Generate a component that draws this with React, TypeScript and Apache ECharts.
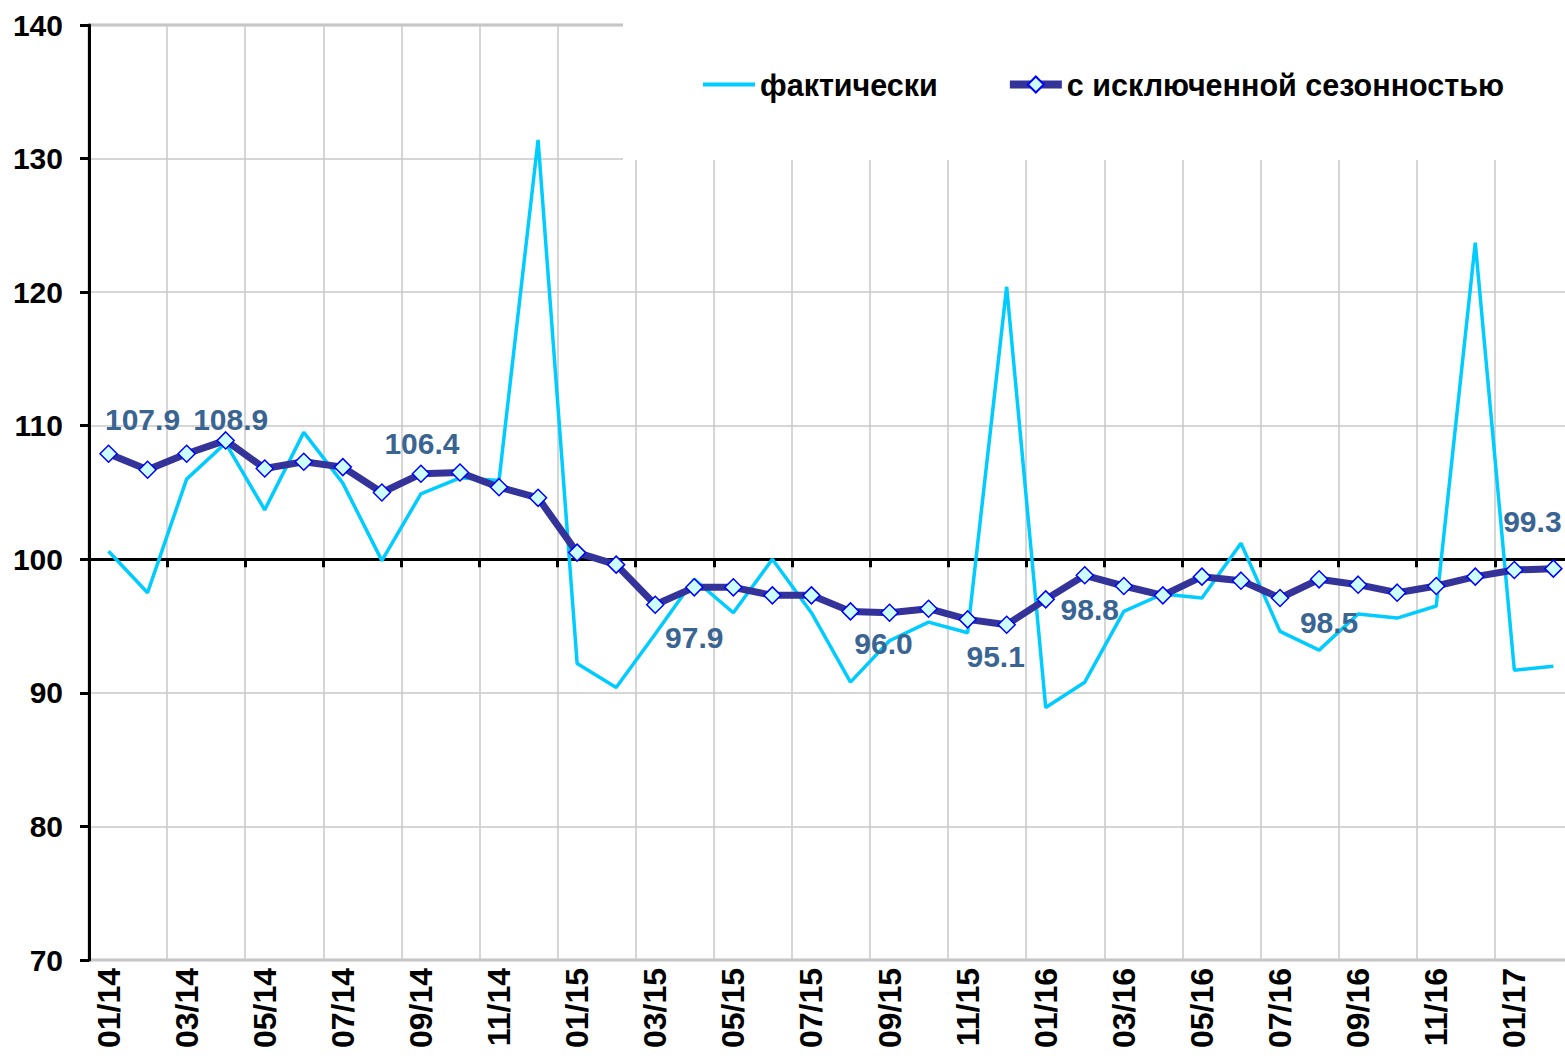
import React, { useEffect, useRef } from 'react';
import * as echarts from 'echarts';

const months = [
  '01/14', '02/14', '03/14', '04/14', '05/14', '06/14', '07/14', '08/14', '09/14', '10/14', '11/14', '12/14',
  '01/15', '02/15', '03/15', '04/15', '05/15', '06/15', '07/15', '08/15', '09/15', '10/15', '11/15', '12/15',
  '01/16', '02/16', '03/16', '04/16', '05/16', '06/16', '07/16', '08/16', '09/16', '10/16', '11/16', '12/16',
  '01/17', '02/17',
];

const actual = [
  100.6, 97.5, 106.0, 108.7, 103.7, 109.5, 105.7, 99.9, 104.9, 106.1, 105.9, 131.4,
  92.2, 90.4, 94.4, 98.5, 96.0, 100.0, 96.0, 90.8, 93.9, 95.3, 94.5, 120.4,
  88.9, 90.8, 96.1, 97.4, 97.1, 101.2, 94.6, 93.2, 95.9, 95.6, 96.5, 123.7,
  91.7, 92.0,
];

const seasonal = [
  107.9, 106.7, 107.9, 108.9, 106.8, 107.3, 106.9, 105.0, 106.4, 106.5, 105.4, 104.6,
  100.5, 99.6, 96.6, 97.9, 97.9, 97.3, 97.3, 96.1, 96.0, 96.3, 95.5, 95.1,
  97.0, 98.8, 98.0, 97.3, 98.7, 98.4, 97.1, 98.5, 98.1, 97.5, 98.0, 98.7,
  99.2, 99.3,
];

const seriesNames = ['фактически', 'с исключенной сезонностью'];
const labeledPoints = [0, 3, 8, 15, 20, 23, 25, 31, 37];
const yMin = 70;
const yMax = 140;
const yStep = 10;
const refLevel = 100;

// label placement (style only)
const labelOffsets: Record<number, [number, number]> = {
  0: [34, -34],
  3: [5, -21],
  8: [1, -30],
  15: [0, 50],
  20: [-6, 31],
  23: [-11, 32],
  25: [5, 34],
  31: [10, 43],
  37: [-21, -47],
};

export default function App() {
  const ref = useRef<HTMLDivElement>(null);

  useEffect(() => {
    if (!ref.current) return;
    const chart = echarts.init(ref.current, null, { renderer: 'svg' });
    const FONT = "'Liberation Sans', Arial, sans-serif";
    const gridLeft = 89;
    const gridTop = 25;
    const gridHeight = 935;
    const gridWidth = months.length * 39.05;
    const offsetRef = -gridHeight * (refLevel - yMin) / (yMax - yMin);

    const seasonalData = seasonal.map((v, i) => {
      if (!labeledPoints.includes(i)) return v;
      return {
        value: v,
        label: {
          show: true,
          position: 'inside',
          offset: labelOffsets[i],
          formatter: (p: any) => Number(p.value).toFixed(1),
          color: '#3A6592',
          fontSize: 30,
          fontWeight: 'bold',
          fontFamily: FONT,
        },
      };
    });

    chart.setOption({
      animation: false,
      backgroundColor: '#ffffff',
      grid: {
        left: gridLeft,
        top: gridTop,
        width: gridWidth,
        height: gridHeight,
        outerBoundsMode: 'none',
        containLabel: false,
        show: true,
        borderColor: '#C0C0C0',
        borderWidth: 3,
        backgroundColor: 'transparent',
      },
      legend: {
        left: 623,
        top: 18,
        width: 900,
        padding: [51, 70, 60, 80],
        backgroundColor: '#ffffff',
        itemWidth: 52,
        itemHeight: 20,
        itemGap: 68,
        data: [
          { name: seriesNames[0], icon: 'path://M0,0 L50,0 L50,4 L0,4 Z' },
          { name: seriesNames[1], lineStyle: { width: 8 } },
        ],
        textStyle: {
          fontSize: 30.5,
          fontWeight: 'bold',
          fontFamily: FONT,
          color: '#000000',
        },
      },
      xAxis: [
        {
          type: 'category',
          data: months,
          position: 'bottom',
          boundaryGap: true,
          axisLine: { show: false },
          axisTick: { show: false },
          axisLabel: {
            interval: 1,
            rotate: 90,
            margin: 8,
            fontSize: 32,
            fontWeight: 'bold',
            fontFamily: FONT,
            color: '#000000',
          },
          splitLine: {
            show: true,
            interval: 1,
            lineStyle: { color: '#C8C8C8', width: 1.5 },
          },
        },
        {
          type: 'category',
          data: months,
          position: 'bottom',
          offset: offsetRef,
          boundaryGap: true,
          axisLine: { show: true, onZero: false, lineStyle: { color: '#000000', width: 3 } },
          axisTick: { show: true, interval: 1, length: 8, lineStyle: { color: '#000000', width: 3 } },
          axisLabel: { show: false },
          splitLine: { show: false },
        },
      ],
      yAxis: {
        type: 'value',
        min: yMin,
        max: yMax,
        interval: yStep,
        axisLine: { show: true, lineStyle: { color: '#000000', width: 3 } },
        axisTick: { show: true, length: 9, lineStyle: { color: '#000000', width: 3 } },
        axisLabel: {
          margin: 26,
          fontSize: 30,
          fontWeight: 'bold',
          fontFamily: FONT,
          color: '#000000',
        },
        splitLine: { show: true, lineStyle: { color: '#C8C8C8', width: 1.5 } },
      },
      series: [
        {
          name: seriesNames[0],
          type: 'line',
          data: actual,
          symbol: 'none',
          lineStyle: { color: '#00CCFF', width: 3.5 },
          itemStyle: { color: '#00CCFF' },
          z: 2,
        },
        {
          name: seriesNames[1],
          type: 'line',
          data: seasonalData,
          symbol: 'diamond',
          symbolSize: 17,
          lineStyle: { color: '#333399', width: 7 },
          itemStyle: { color: '#CCFFFF', borderColor: '#0000FF', borderWidth: 1.5 },
          z: 3,
        },
      ],
    });

    return () => chart.dispose();
  }, []);

  return (
    <div
      ref={ref}
      style={{ position: 'fixed', left: 0, top: 0, width: 1565, height: 1059, background: '#fff' }}
    />
  );
}
